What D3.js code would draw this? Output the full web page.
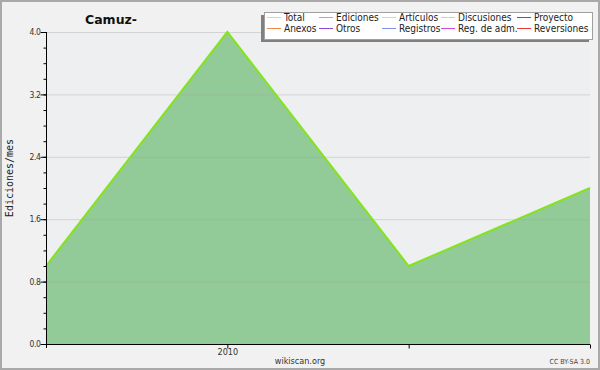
<!DOCTYPE html>
<html lang="es">
  <head>
    <meta charset="utf-8">
    <title>Camuz-</title>
    <style>
      body { margin: 0; background: #fff; }
      svg { display: block; }
    </style>
  </head>
  <body>
    <div id="chart"></div>
    <script src="https://d3js.org/d3.v7.min.js" charset="utf-8"></script>
    <script>
      // data
      let periods = ['p0', 'p1', 'p2', 'p3'];
      let ediciones = [1.0, 4.0, 1.0, 2.0];
      let xTickLabels = ['', '2010', '', ''];
      let yTicks = [0, 0.8, 1.6, 2.4, 3.2, 4.0];
      let legendNames = ['Total', 'Ediciones', 'Artículos', 'Discusiones', 'Proyecto',
                         'Anexos', 'Otros', 'Registros', 'Reg. de adm.', 'Reversiones'];
      let legendColors = ['#a8e4e0', '#80c888', '#c8f060', '#f0d060', '#606060',
                          '#f08848', '#8848d8', '#8090f0', '#d048e0', '#e83838'];

      let width = 600, height = 370;
      let plotLeft = 46, plotRight = 590, plotTop = 32, plotBottom = 344;

      let svg = d3.select('#chart').append('svg')
        .attr('width', width).attr('height', height);

      // background + frame
      svg.append('rect').attr('x', 1).attr('y', 1).attr('width', width - 2).attr('height', height - 2)
        .attr('fill', '#f1f1f1').attr('stroke', '#a9a9a9').attr('stroke-width', 2);
      svg.append('rect').attr('x', plotLeft).attr('y', plotTop)
        .attr('width', plotRight - plotLeft).attr('height', plotBottom - plotTop)
        .attr('fill', '#eeeff0');

      let x = d3.scalePoint().domain(periods).range([plotLeft, plotRight]);
      let y = d3.scaleLinear().domain([0, 4]).range([plotBottom, plotTop]);

      // area
      let area = d3.area()
        .x((d, i) => x(periods[i]))
        .y0(y(0))
        .y1(d => y(d));
      svg.append('path').datum(ediciones)
        .attr('d', area).attr('fill', '#92cb98');

      // grid
      svg.selectAll('.grid').data(yTicks.filter(d => d > 0)).enter().append('line')
        .attr('x1', plotLeft).attr('x2', plotRight)
        .attr('y1', d => y(d) + 0.5).attr('y2', d => y(d) + 0.5)
        .attr('stroke', '#a0a0a0').attr('stroke-opacity', 0.35);

      // line
      let line = d3.line()
        .x((d, i) => x(periods[i]))
        .y(d => y(d));
      svg.append('path').datum(ediciones)
        .attr('d', line).attr('fill', 'none')
        .attr('stroke', '#84e41c').attr('stroke-width', 2);

      // y axis
      let yAxis = d3.axisLeft(y).tickValues(d3.range(0, 4.01, 0.2)).tickSize(3)
        .tickFormat(d => '');
      let gy = svg.append('g').attr('transform', 'translate(' + (plotLeft + 0.5) + ',0)').call(yAxis);
      gy.select('.domain').attr('d', 'M0,' + plotTop + 'V' + (plotBottom + 4)).attr('stroke', '#000');
      gy.selectAll('.tick line').attr('stroke', '#000');
      let gyMajor = svg.append('g').attr('transform', 'translate(' + (plotLeft + 0.5) + ',0)')
        .call(d3.axisLeft(y).tickValues(yTicks).tickSize(6).tickFormat(d3.format('.1f')));
      gyMajor.select('.domain').remove();
      gyMajor.selectAll('.tick line').attr('stroke', '#000');
      gyMajor.selectAll('.tick text')
        .attr('x', -6).attr('dx', 0)
        .attr('font-family', 'DejaVu Sans Condensed, DejaVu Sans').attr('font-size', 8.5)
        .attr('letter-spacing', -0.4).attr('fill', '#333');

      // x axis
      let xAxis = d3.axisBottom(x).tickSize(4).tickFormat((d, i) => xTickLabels[i]);
      let gx = svg.append('g').attr('transform', 'translate(0,' + (plotBottom + 0.5) + ')').call(xAxis);
      gx.select('.domain').attr('d', 'M' + plotLeft + ',0H' + plotRight).attr('stroke', '#000');
      gx.selectAll('.tick line').attr('stroke', (d, i) => i === 0 ? 'none' : '#000');
      gx.selectAll('.tick text')
        .attr('y', 4).attr('dy', '0.71em')
        .attr('font-family', 'DejaVu Sans Condensed, DejaVu Sans').attr('font-size', 9)
        .attr('fill', '#333');

      // titles
      svg.append('text').attr('x', 85).attr('y', 24)
        .attr('font-family', 'DejaVu Sans').attr('font-weight', 'bold').attr('font-size', 12.5)
        .attr('fill', '#111').text('Camuz-');
      svg.append('text').attr('transform', 'translate(13,178) rotate(-90)')
        .attr('text-anchor', 'middle')
        .attr('font-family', 'DejaVu Sans Mono').attr('font-size', 10)
        .attr('fill', '#222').text('Ediciones/mes');
      svg.append('text').attr('x', 300).attr('y', 364).attr('text-anchor', 'middle')
        .attr('font-family', 'DejaVu Sans Condensed, DejaVu Sans').attr('font-size', 9)
        .attr('fill', '#333').text('wikiscan.org');
      svg.append('text').attr('x', 590).attr('y', 364).attr('text-anchor', 'end')
        .attr('font-family', 'DejaVu Sans Condensed, DejaVu Sans').attr('font-size', 7)
        .attr('fill', '#444').text('CC BY-SA 3.0');

      // legend
      let lx = 264, ly = 12, lw = 328, lh = 27;
      svg.append('rect').attr('x', lx - 3).attr('y', ly + 3).attr('width', lw).attr('height', lh)
        .attr('fill', '#808080');
      svg.append('rect').attr('x', lx + 0.5).attr('y', ly + 0.5).attr('width', lw).attr('height', lh)
        .attr('fill', '#fff').attr('stroke', '#a0a0a0');
      let colX = [267, 319, 382, 441, 517];
      let rowY = [21, 32];
      let items = svg.selectAll('.leg').data(legendNames).enter().append('g')
        .attr('transform', (d, i) => 'translate(' + colX[i % 5] + ',' + rowY[Math.floor(i / 5)] + ')');
      items.append('line').attr('x1', 0).attr('x2', 14).attr('y1', -3.5).attr('y2', -3.5)
        .attr('stroke', (d, i) => legendColors[i]).attr('stroke-width', 1);
      items.append('text').attr('x', 17).attr('y', 0)
        .attr('font-family', 'DejaVu Sans Condensed, DejaVu Sans').attr('font-size', 10)
        .attr('fill', '#222').text(d => d);
    </script>
  </body>
</html>
